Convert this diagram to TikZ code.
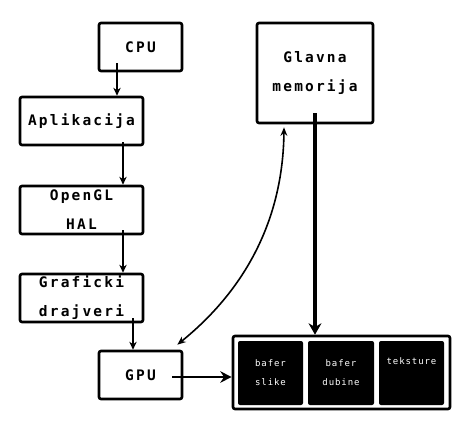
\documentclass[tikz,border=0pt]{standalone}
\usepackage{fontspec}
\usetikzlibrary{arrows.meta}
\newfontfamily\pixfont[LetterSpace=15]{DejaVu Sans Mono}
\newfontfamily\pixsmall[LetterSpace=10]{DejaVu Sans Mono}
\tikzset{
  >={Stealth[length=3mm,width=2.4mm]},
  blok/.style={draw,line width=2.6pt,rounded corners=2pt,align=center,inner sep=0pt,
    font={\pixfont\bfseries\fontsize{14.5}{29}\selectfont}},
  celija/.style={fill=black,rounded corners=2pt,text=white,align=center,inner sep=0pt,
    minimum height=64pt,font={\pixsmall\fontsize{9}{19}\selectfont}},
  tok/.style={->,line width=1.4pt,>={Stealth[length=2.8mm,width=2.6mm]}},
}
\begin{document}
\begin{tikzpicture}[x=1pt,y=-1pt]
\useasboundingbox (0,0) rectangle (472,428);
\node[blok,minimum width=83pt,minimum height=48pt] (cpu) at (140.5,47){CPU};
\node[blok,minimum width=123pt,minimum height=48pt] (apl) at (81.5,121){Aplikacija};
\node[blok,minimum width=123pt,minimum height=48pt] (ogl) at (81.5,210){OpenGL\\HAL};
\node[blok,minimum width=123pt,minimum height=48pt] (gd) at (81.5,298){Graficki\\drajveri};
\node[blok,minimum width=83pt,minimum height=48pt] (gpu) at (140.5,375){GPU};
\node[blok,minimum width=116pt,minimum height=100pt] (mem) at (315,73){Glavna\\memorija};
\node[blok,minimum width=217pt,minimum height=73pt] (bank) at (341.5,372.5){};
\node[celija,minimum width=65pt] (c1) at (270.5,373){bafer\\slike};
\node[celija,minimum width=66pt] (c2) at (341,373){bafer\\dubine};
\node[celija,minimum width=65pt] (c3) at (411.5,373){teksture\\\strut};
% tok podataka
\draw[tok] ([xshift=-23.5pt,yshift=9pt]cpu.south) -- ([xshift=35.5pt]apl.north);
\draw[tok] ([xshift=41.5pt,yshift=4pt]apl.south) -- ([xshift=41.5pt]ogl.north);
\draw[tok] ([xshift=41.5pt,yshift=5pt]ogl.south) -- ([xshift=41.5pt]gd.north);
\draw[tok] ([xshift=51.5pt,yshift=5pt]gd.south) -- ([xshift=-7.5pt]gpu.north);
\draw[->,line width=2.6pt,>={Stealth[length=4mm,width=4mm]}] ([xshift=31.5pt,yshift=-2pt]gpu.center) -- ([yshift=-4.5pt]bank.west);
\draw[->,line width=4.5pt,>={Stealth[length=4mm,width=4.5mm]}] ([yshift=11pt]mem.south) -- ([xshift=-26.5pt]bank.north);
\draw[<->,line width=1.6pt] ([xshift=-6pt,yshift=5pt]gpu.north east) .. controls (245,290) and (283,220) .. ([xshift=-31pt,yshift=-3pt]mem.south);
\end{tikzpicture}
\end{document}
